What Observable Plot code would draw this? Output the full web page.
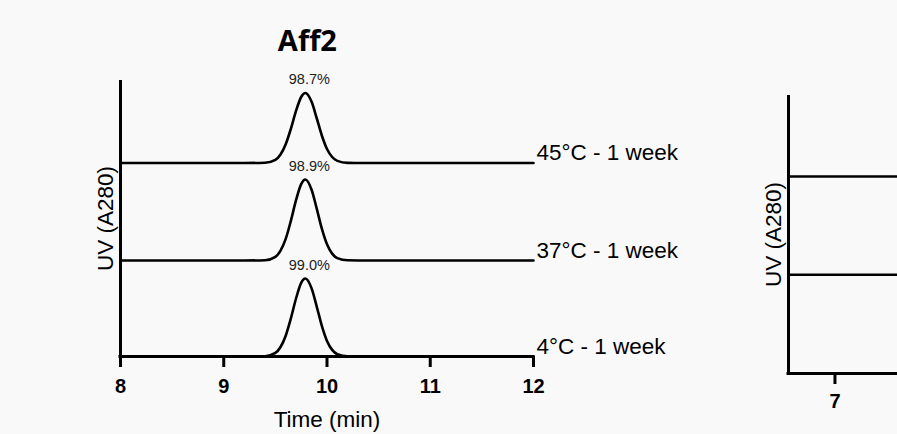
<!DOCTYPE html>
<html><head><meta charset="utf-8">
<script src="https://cdn.jsdelivr.net/npm/d3@7"></script>
<script src="https://cdn.jsdelivr.net/npm/@observablehq/plot@0.6"></script>
<style>
html,body{margin:0;padding:0;background:#f9f9f9;}
#fig{position:relative;width:897px;height:434px;overflow:hidden;background:#f9f9f9;}
#left{position:absolute;left:0;top:0;width:700px;height:434px;}
#right{position:absolute;left:700px;top:0;width:600px;height:434px;}
#fig svg{max-width:none !important;}
svg [aria-label="x-axis tick label"] text{font-weight:bold;}
</style></head>
<body>
<div id="fig"><div id="left"></div><div id="right"></div></div>
<script>
// ---- Data ----
const times = [8, 9.2, 9.4, 9.5, 9.55, 9.6, 9.65, 9.7, 9.75, 9.79, 9.85, 9.9, 9.95, 10.0, 10.05, 10.1, 10.2, 10.4, 12];
const uv45 = [0, 0, 0.3, 3.2, 8.5, 18.7, 34.2, 52.1, 66.0, 70.0, 61.4, 45.0, 27.5, 14.0, 6.0, 2.1, 0.1, 0, 0];
const uv37 = [0, 0, 0.3, 3.7, 9.9, 21.6, 39.6, 60.3, 76.4, 81.0, 71.0, 52.1, 31.8, 16.2, 6.9, 2.4, 0.2, 0, 0];
const uv4  = [0, 0, 0.3, 3.6, 9.5, 20.8, 38.1, 58.0, 73.6, 78.0, 68.4, 50.2, 30.7, 15.6, 6.6, 2.3, 0.2, 0, 0];
const conditions = ["45°C - 1 week", "37°C - 1 week", "4°C - 1 week"];
const offsets = [193.5, 96, 0];
const purity = ["98.7%", "98.9%", "99.0%"];
const peakTime = 9.79;
const xTicks = [8, 9, 10, 11, 12];
const xDomain = [8, 12];
const yDomain = [0, 276];

// right (cropped) panel: only its left edge is visible
const rightTimes = [6.55, 10.55];
const rightOffsets = [197, 98.7, 0];
const rightTicks = [7];
const rightXDomain = [6.55, 10.55];
const rightYDomain = [0, 278];

const xTitle = "Time (min)";
const yTitle = "UV (A280)";
const panelTitle = "Aff2";

// ---- Build tables ----
const series = [uv45, uv37, uv4];
const rows = series.flatMap((s, i) => times.map((t, j) => ({cond: conditions[i], t, uv: offsets[i] + s[j]})));
const peaks = series.map((s, i) => ({t: peakTime, uv: offsets[i] + d3.max(s), label: purity[i]}));
const ends = conditions.map((c, i) => ({cond: c, t: xDomain[1], uv: offsets[i]}));
const rightRows = rightOffsets.flatMap((o, i) => rightTimes.map(t => ({k: i, t, uv: o})));

const font = "'Liberation Sans', Arial, sans-serif";

const left = Plot.plot({
  width: 700, height: 434,
  marginLeft: 120, marginRight: 167, marginTop: 80, marginBottom: 78,
  x: {domain: xDomain},
  y: {domain: yDomain, axis: null},
  style: {fontFamily: font, background: "transparent", color: "#000"},
  marks: [
    Plot.line(rows, {x: "t", y: "uv", z: "cond", curve: "monotone-x", stroke: "#000", strokeWidth: 2.6}),
    Plot.ruleX([xDomain[0]], {y1: yDomain[0], y2: yDomain[1], stroke: "#000", strokeWidth: 3}),
    Plot.ruleY([0], {x1: xDomain[0], x2: xDomain[1], stroke: "#000", strokeWidth: 3, strokeLinecap: "square"}),
    Plot.axisX({ticks: xTicks, tickSize: 11, tickPadding: 11, tickFormat: d => d, fontSize: 20, strokeWidth: 3, label: null}),
    Plot.text(peaks, {x: "t", y: "uv", text: "label", lineAnchor: "bottom", dx: 4, dy: -9, fontSize: 14.5, fill: "#222"}),
    Plot.text(ends, {x: "t", y: "uv", text: "cond", textAnchor: "start", lineAnchor: "bottom", dx: 3, dy: -3, fontSize: 22.5}),
    Plot.text([xTitle], {x: 10, text: d => d, frameAnchor: "bottom", lineAnchor: "bottom", dy: 70, fontSize: 22.5}),
    Plot.text([yTitle], {text: d => d, frameAnchor: "left", textAnchor: "middle", rotate: -90, lineAnchor: "bottom", dx: -8, fontSize: 22.5}),
    Plot.text([panelTitle], {x: 9.81, text: d => d, frameAnchor: "top", lineAnchor: "bottom", dy: -30, fontSize: 29, fontWeight: 700, fontFamily: "'Open Sans', sans-serif"})
  ]
});
document.getElementById("left").append(left);

const right = Plot.plot({
  width: 600, height: 434,
  marginLeft: 88, marginRight: 99, marginTop: 95, marginBottom: 61,
  x: {domain: rightXDomain},
  y: {domain: rightYDomain, axis: null},
  style: {fontFamily: font, background: "transparent", color: "#000"},
  marks: [
    Plot.line(rightRows, {x: "t", y: "uv", z: "k", stroke: "#000", strokeWidth: 2.6}),
    Plot.ruleX([rightXDomain[0]], {y1: rightYDomain[0], y2: rightYDomain[1], stroke: "#000", strokeWidth: 3}),
    Plot.ruleY([0], {x1: rightXDomain[0], x2: rightXDomain[1], stroke: "#000", strokeWidth: 3, strokeLinecap: "square"}),
    Plot.axisX({ticks: rightTicks, tickSize: 11, tickPadding: 9, tickFormat: d => d, fontSize: 20, strokeWidth: 3, label: null}),
    Plot.text([yTitle], {text: d => d, frameAnchor: "left", textAnchor: "middle", rotate: -90, lineAnchor: "bottom", dx: -8, fontSize: 22.5})
  ]
});
document.getElementById("right").append(right);
</script>
</body></html>
